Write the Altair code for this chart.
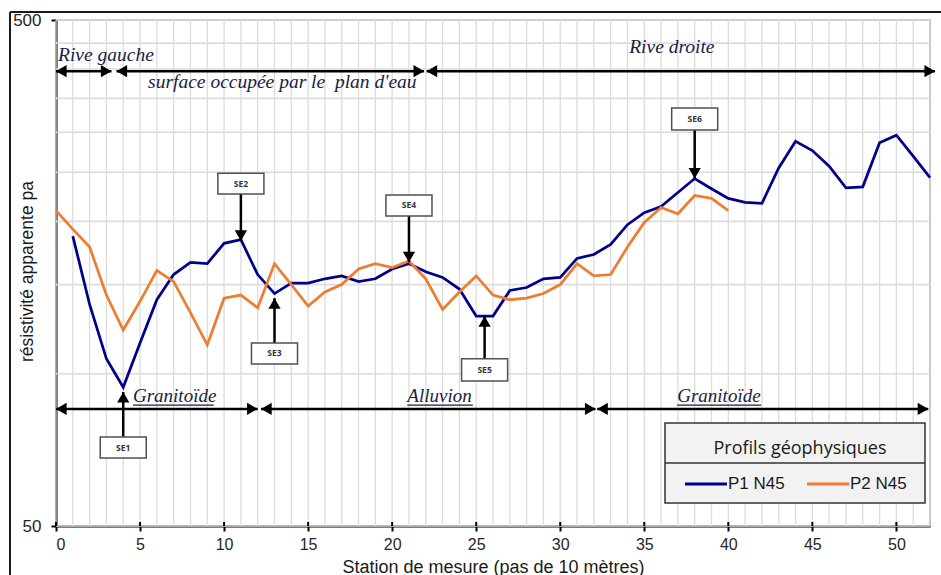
import altair as alt
import pandas as pd

# --- Profile readings (apparent resistivity, ohm.m) per measuring station ---
p1_stations = list(range(1, 53))
p1_values = [187, 137, 107, 94, 115, 140, 157, 166, 165, 181, 184, 157, 144, 151,
             151, 154, 156, 152, 154, 161, 165, 159, 155, 147, 130, 130, 146, 148,
             154, 155, 169, 172, 180, 197, 208, 214, 228, 243, 232, 222, 218, 217,
             255, 288, 276, 257, 233, 234, 286, 296, 269, 244]
p2_stations = list(range(0, 41))
p2_values = [210, 193, 178, 143, 122, 139, 160, 152, 132, 114, 141, 143, 135, 165,
             150, 136, 145, 150, 161, 165, 162, 167, 154, 134, 145, 156, 143, 140,
             141, 144, 150, 165, 156, 157, 178, 199, 213, 207, 225, 222, 210]
series_names = ["P1 N45", "P2 N45"]
series_colors = ["#00008B", "#ED7D31"]

# --- Grid and tick positions ---
grid_stations = list(range(0, 53))
grid_rho = list(range(50, 501, 50))
tick_stations = list(range(0, 51, 5))

# --- Electrical soundings (SE) pointed at on the profiles ---
se_names = ["SE1", "SE2", "SE3", "SE4", "SE5", "SE6"]
se_station = [4, 11, 13, 21, 25.5, 38]
se_tip = [92, 183, 141, 166, 130, 243]          # arrow tip on the curve
se_box_near = [75, 226.5, 115, 205, 107, 303]   # box edge facing the curve
se_box_far = [68.1, 249, 104.5, 225.5, 96.7, 335]

# --- Banks / water surface spans (top) ---
bank_labels = ["Rive gauche", "surface occupée par le\u00a0 plan d'eau", "Rive droite"]
bank_label_x = [0.12, 5.48, 34.1]
bank_label_y = [415, 367, 430]
bank_from = [0, 3.6, 22.05]
bank_to = [3.3, 21.9, 52.3]
bank_level = 396

# --- Geological units (bottom) ---
unit_labels = ["Granitoïde", "Alluvion", "Granitoïde"]
unit_label_x = [4.58, 20.9, 36.96]
unit_label_end = [9.38, 24.8, 41.96]
unit_label_y = 88
unit_underline_y = 86.7
unit_from = [0, 12.2, 32.2]
unit_to = [12.0, 32.1, 51.9]
unit_level = 85.2

W, H = 874, 506
ink = "#1c1c44"
serif = "Liberation Serif"
sans = "Liberation Sans"

profiles = pd.DataFrame({
    "station": p1_stations + p2_stations,
    "rho": p1_values + p2_values,
    "profil": [series_names[0]] * len(p1_stations) + [series_names[1]] * len(p2_stations),
})

x_scale = alt.Scale(domain=[0, 52], nice=False, zero=False)
y_scale = alt.Scale(type="log", domain=[50, 500], nice=False)

# Grid lines: every station, every 50 ohm.m
grid_v = alt.Chart(pd.DataFrame({"s": grid_stations})).mark_rule(
    color="#dcdcdc", strokeWidth=1.3).encode(
    x=alt.X("s:Q", scale=x_scale, axis=None))
grid_h = alt.Chart(pd.DataFrame({"r": grid_rho})).mark_rule(
    color="#dcdcdc", strokeWidth=1.6).encode(
    y=alt.Y("r:Q", scale=y_scale, axis=None))
# inner half of the station ticks (they cross the axis line)
ticks_in = alt.Chart(pd.DataFrame({"s": tick_stations})).mark_rule(
    color="#000000", strokeWidth=2).encode(
    x=alt.X("s:Q", scale=x_scale, axis=None), y=alt.value(H), y2=alt.value(H - 4))

one = pd.DataFrame({"k": [0]})

# Legend panel background with a divider under its title
legend_box = alt.Chart(one).mark_rect(fill="#f2f2f2", stroke="#333333", strokeWidth=1.5).encode(
    x=alt.value(609), x2=alt.value(869), y=alt.value(403), y2=alt.value(483))
legend_div = alt.Chart(one).mark_rule(color="#333333", strokeWidth=1.5).encode(
    x=alt.value(609), x2=alt.value(869), y=alt.value(443))

lines = alt.Chart(profiles).mark_line(strokeWidth=2.75).encode(
    x=alt.X("station:Q", scale=x_scale,
            axis=alt.Axis(values=tick_stations, grid=False,
                          title="Station de mesure (pas de 10 mètres)",
                          titleFont=sans, titleFontSize=18, titleFontWeight="normal",
                          titleColor="#1a1a1a", titleBaseline="alphabetic", titleY=46,
                          labelFont=sans, labelFontSize=16, labelColor="#262626",
                          labelPadding=5, tickSize=5, tickWidth=2, tickColor="#000000",
                          domainColor="#000000", domainWidth=2)),
    y=alt.Y("rho:Q", scale=y_scale,
            axis=alt.Axis(values=[50, 500], format="d", grid=False,
                          title="résistivité apparente pa",
                          titleFont=sans, titleFontSize=17.5, titleFontWeight="normal",
                          titleColor="#1a1a1a", titleAngle=270, titleAlign="center",
                          titleBaseline="alphabetic", titleX=-24, titleY=H / 2 - 2,
                          labelFont=sans, labelFontSize=17, labelColor="#262626",
                          labelPadding=10, tickSize=5, tickWidth=2, tickColor="#000000",
                          domainColor="#000000", domainWidth=2)),
    color=alt.Color("profil:N",
                    scale=alt.Scale(domain=series_names, range=series_colors),
                    legend=alt.Legend(orient="none", legendX=638, legendY=420,
                                      direction="horizontal",
                                      title="Profils géophysiques",
                                      titleFont="Open Sans", titleFontSize=18,
                                      titleFontWeight="normal", titleColor="#1a1a1a",
                                      titleAnchor="middle", titlePadding=14, padding=0,
                                      symbolType="M-2,0L2,0", symbolSize=441,
                                      symbolStrokeWidth=3,
                                      labelFont=sans, labelFontSize=17,
                                      labelColor="#1a1a1a", labelOffset=10,
                                      columnPadding=16)),
)

# Double-headed span arrows
def spans(starts, ends, level):
    df = pd.DataFrame({"a": starts, "b": ends, "lvl": [level] * len(starts)})
    base = alt.Chart(df)
    shaft = base.mark_rule(color="#000000", strokeWidth=2.5).encode(
        x=alt.X("a:Q", scale=x_scale, axis=None), x2="b:Q",
        y=alt.Y("lvl:Q", scale=y_scale, axis=None))
    left = base.mark_point(shape="triangle-left", size=150, filled=True, opacity=1,
                           color="#000000", xOffset=5.3).encode(
        x=alt.X("a:Q", scale=x_scale, axis=None),
        y=alt.Y("lvl:Q", scale=y_scale, axis=None))
    right = base.mark_point(shape="triangle-right", size=150, filled=True, opacity=1,
                            color="#000000", xOffset=-5.3).encode(
        x=alt.X("b:Q", scale=x_scale, axis=None),
        y=alt.Y("lvl:Q", scale=y_scale, axis=None))
    return [shaft, left, right]

bank_text = alt.Chart(pd.DataFrame({"t": bank_labels, "x": bank_label_x, "y": bank_label_y})).mark_text(
    font=serif, fontStyle="italic", fontSize=19.5, align="left", baseline="alphabetic",
    color=ink).encode(
    x=alt.X("x:Q", scale=x_scale, axis=None), y=alt.Y("y:Q", scale=y_scale, axis=None), text="t:N")

units_df = pd.DataFrame({"t": unit_labels, "x": unit_label_x, "x2": unit_label_end,
                         "y": [unit_label_y] * 3, "u": [unit_underline_y] * 3})
unit_text = alt.Chart(units_df).mark_text(
    font=serif, fontStyle="italic", fontSize=19, align="left", baseline="alphabetic",
    color=ink).encode(
    x=alt.X("x:Q", scale=x_scale, axis=None), y=alt.Y("y:Q", scale=y_scale, axis=None), text="t:N")
unit_line = alt.Chart(units_df).mark_rule(color=ink, strokeWidth=1.2).encode(
    x=alt.X("x:Q", scale=x_scale, axis=None), x2="x2:Q",
    y=alt.Y("u:Q", scale=y_scale, axis=None))

# Sounding callouts: box, label, arrow
se_df = pd.DataFrame({"name": se_names, "st": se_station, "tip": se_tip,
                      "near": se_box_near, "far": se_box_far})
se_df["x0"] = se_df["st"] - 1.37
se_df["x1"] = se_df["st"] + 1.37
se_df["mid"] = (se_df["near"] * se_df["far"]) ** 0.5
se_df["up"] = se_df["tip"] > se_df["near"]
se_base = alt.Chart(se_df)
se_box = se_base.mark_rect(fill="#ffffff", stroke="#505050", strokeWidth=1.5).encode(
    x=alt.X("x0:Q", scale=x_scale, axis=None), x2="x1:Q",
    y=alt.Y("near:Q", scale=y_scale, axis=None), y2="far:Q")
se_txt = se_base.mark_text(font="Open Sans", fontWeight="bold", fontSize=8.5,
                           color="#333333", baseline="middle").encode(
    x=alt.X("st:Q", scale=x_scale, axis=None),
    y=alt.Y("mid:Q", scale=y_scale, axis=None), text="name:N")
se_shaft = se_base.mark_rule(color="#000000", strokeWidth=2.5).encode(
    x=alt.X("st:Q", scale=x_scale, axis=None),
    y=alt.Y("near:Q", scale=y_scale, axis=None), y2="tip:Q")
se_up = se_base.transform_filter("datum.up").mark_point(
    shape="triangle-up", size=150, filled=True, opacity=1, color="#000000", yOffset=5.3).encode(
    x=alt.X("st:Q", scale=x_scale, axis=None), y=alt.Y("tip:Q", scale=y_scale, axis=None))
se_down = se_base.transform_filter("!datum.up").mark_point(
    shape="triangle-down", size=150, filled=True, opacity=1, color="#000000", yOffset=-5.3).encode(
    x=alt.X("st:Q", scale=x_scale, axis=None), y=alt.Y("tip:Q", scale=y_scale, axis=None))

# Outer chart frame (left and top edges)
frame_left = alt.Chart(one).mark_rule(color="#1a1a1a", strokeWidth=2).encode(
    x=alt.value(-46), y=alt.value(-8), y2=alt.value(560))
frame_top = alt.Chart(one).mark_rule(color="#1a1a1a", strokeWidth=2).encode(
    x=alt.value(-46), x2=alt.value(900), y=alt.value(-8))

layers = [grid_v, grid_h, ticks_in, legend_box, legend_div, lines] \
    + spans(bank_from, bank_to, bank_level) \
    + spans(unit_from, unit_to, unit_level) \
    + [bank_text, unit_text, unit_line, se_shaft, se_box, se_txt, se_up, se_down,
       frame_left, frame_top]

chart = alt.layer(*layers).resolve_axis(x="independent", y="independent").properties(
    width=W, height=H,
    autosize=alt.AutoSizeParams(type="none"),
    padding={"left": 56, "top": 20, "right": 11, "bottom": 49},
    background="#ffffff",
).configure_view(stroke="#8c8c8c", strokeWidth=1.5)

chart.save("out.html", embed_options={"renderer": "svg", "actions": False})
